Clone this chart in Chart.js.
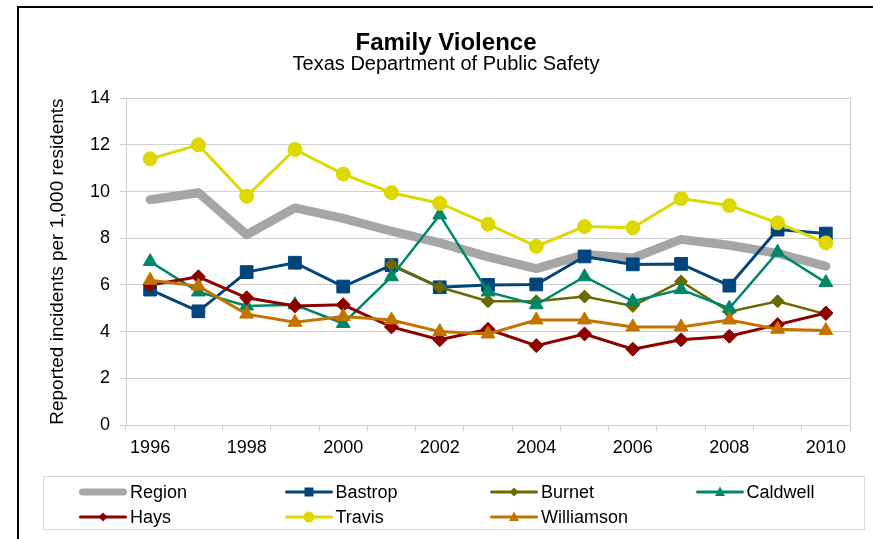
<!DOCTYPE html>
<html>
<head>
<meta charset="utf-8">
<script src="https://cdn.jsdelivr.net/npm/chart.js@4/dist/chart.umd.min.js"></script>
<style>
  body { margin: 0; background: #fff; font-family: "Liberation Sans", Arial, sans-serif; }
  #frame { position: absolute; left: 17px; top: 6px; width: 900px; height: 600px;
           border-left: 2px solid #000; border-top: 2px solid #000; }
  #c { position: absolute; left: 0; top: 0; }
  #legend { position: absolute; left: 43px; top: 476px; width: 822px; height: 54px;
            border: 1px solid #d9d9d9; box-sizing: border-box; }
  .item { position: absolute; height: 22px; display: flex; align-items: center;
          font-size: 18px; color: #000; white-space: nowrap; }
  .item svg { margin-right: 2px; }
</style>
</head>
<body>
<div id="frame"></div>
<canvas id="c" width="873" height="539"></canvas>
<div id="legend"></div>
<script>
"use strict";

// years on the x axis
const years = ["1996", "1997", "1998", "1999", "2000", "2001", "2002", "2003",
               "2004", "2005", "2006", "2007", "2008", "2009", "2010"];

// reported incidents per 1,000 residents
const region     = [9.65, 9.95, 8.15, 9.3, 8.85, 8.3, 7.8, 7.2, 6.7, 7.3, 7.15, 7.95, 7.7, 7.35, 6.8];
const bastrop    = [5.8, 4.87, 6.55, 6.95, 5.93, 6.85, 5.9, 6.0, 6.02, 7.22, 6.88, 6.9, 5.97, 8.37, 8.2];
const burnet     = [null, null, null, null, null, 6.87, 5.9, 5.3, 5.3, 5.5, 5.1, 6.15, 4.85, 5.3, 4.75];
const caldwell   = [7.0, 5.7, 5.1, 5.15, 4.35, 6.35, 9.0, 5.7, 5.15, 6.35, 5.3, 5.8, 5.0, 7.4, 6.1];
const hays       = [6.0, 6.35, 5.45, 5.1, 5.15, 4.2, 3.65, 4.1, 3.4, 3.9, 3.25, 3.65, 3.8, 4.3, 4.8];
const travis     = [11.4, 12.0, 9.8, 11.8, 10.75, 9.95, 9.5, 8.6, 7.65, 8.5, 8.45, 9.7, 9.4, 8.66, 7.8];
const williamson = [6.2, 5.95, 4.75, 4.4, 4.65, 4.5, 4.0, 3.9, 4.5, 4.5, 4.2, 4.2, 4.5, 4.1, 4.05];

// y axis ticks
const yTicks = [0, 2, 4, 6, 8, 10, 12, 14];

const gridColor = "#cfcfcf";

Chart.defaults.font.family = '"Liberation Sans", Arial, sans-serif';
Chart.defaults.color = "#000";

function series(label, data, color, width, style, radius, order) {
    return {
        label: label,
        data: data,
        borderColor: color,
        backgroundColor: color,
        borderWidth: width,
        pointStyle: style,
        pointRadius: radius,
        pointHoverRadius: radius,
        pointBorderWidth: 1,
        pointBorderColor: color,
        pointBackgroundColor: color,
        tension: 0,
        order: order
    };
}

const datasets = [
    series("Region", region, "#a6a6a6", 9, false, 0, 7),
    series("Bastrop", bastrop, "#00457c", 3, "rect", 9, 6),
    series("Burnet", burnet, "#6b6a00", 2.5, "rectRot", 6.5, 5),
    series("Caldwell", caldwell, "#00876a", 2.5, "triangle", 8, 4),
    series("Hays", hays, "#8c0000", 3, "rectRot", 7, 3),
    series("Travis", travis, "#dcd800", 3, "circle", 7, 2),
    series("Williamson", williamson, "#c27300", 3, "triangle", 8, 1)
];
datasets[0].borderJoinStyle = "round";
datasets[0].borderCapStyle = "round";

// grey line closing the plot area on the right
const plotFrame = {
    id: "plotFrame",
    beforeDatasetsDraw(chart) {
        const a = chart.chartArea;
        const ctx = chart.ctx;
        ctx.save();
        ctx.strokeStyle = gridColor;
        ctx.lineWidth = 1;
        ctx.beginPath();
        ctx.moveTo(Math.round(a.right) + 0.5, a.top);
        ctx.lineTo(Math.round(a.right) + 0.5, a.bottom);
        ctx.stroke();
        ctx.restore();
    }
};

const config = {
    type: "line",
    data: { labels: years, datasets: datasets },
    options: {
        responsive: false,
        animation: false,
        layout: { padding: { left: 42, right: 23, top: 10, bottom: 0 } },
        plugins: {
            legend: { display: false },
            tooltip: { enabled: false },
            title: {
                display: true,
                text: "Family Violence",
                font: { size: 24, weight: "bold", lineHeight: 0.84 },
                padding: { top: 23, bottom: 0 }
            },
            subtitle: {
                display: true,
                text: "Texas Department of Public Safety",
                font: { size: 20, lineHeight: 1 },
                padding: { top: 1, bottom: 24 }
            }
        },
        scales: {
            x: {
                offset: true,
                grid: { offset: true, drawOnChartArea: false, drawTicks: true, tickLength: 6, color: gridColor },
                border: { color: gridColor },
                ticks: {
                    autoSkip: false, maxRotation: 0, padding: 6,
                    font: { size: 18 },
                    callback: (v, i) => (i % 2 === 0 ? years[i] : "")
                },
                afterFit: (s) => { s.height = 114; }
            },
            y: {
                min: yTicks[0],
                max: yTicks[yTicks.length - 1],
                grid: { color: gridColor, tickLength: 6 },
                border: { color: gridColor },
                ticks: { stepSize: 2, padding: 10, font: { size: 18 } },
                title: {
                    display: true,
                    text: "Reported incidents per 1,000 residents",
                    font: { size: 19 },
                    padding: { top: 4, bottom: 4 }
                },
                afterFit: (s) => { s.width = 84; }
            }
        }
    },
    plugins: [plotFrame]
};

const myChart = new Chart(document.getElementById("c").getContext("2d"), config);

// legend built from the same datasets
function markerSvg(ds) {
    const c = ds.borderColor;
    let m = "";
    if (ds.pointStyle === "rect") m = `<rect x="20.5" y="6.5" width="9" height="9" fill="${c}"/>`;
    else if (ds.pointStyle === "rectRot") m = `<polygon points="25,6.5 29.5,11 25,15.5 20.5,11" fill="${c}"/>`;
    else if (ds.pointStyle === "triangle") m = `<polygon points="25,5.5 30,15 20,15" fill="${c}"/>`;
    else if (ds.pointStyle === "circle") m = `<circle cx="25" cy="11" r="5.5" fill="${c}"/>`;
    const w = ds.pointStyle ? 3 : 7;
    return `<svg width="50" height="22"><line x1="${w / 2 + 1}" y1="11" x2="${49 - w / 2}" y2="11" stroke="${c}" stroke-width="${w}" stroke-linecap="round"/>${m}</svg>`;
}

const legend = document.getElementById("legend");
datasets.forEach((ds, i) => {
    const col = i % 4, row = Math.floor(i / 4);
    const el = document.createElement("div");
    el.className = "item";
    el.style.left = (34 + col * 205.5) + "px";
    el.style.top = (4 + row * 25) + "px";
    el.innerHTML = markerSvg(ds) + "<span>" + ds.label + "</span>";
    legend.appendChild(el);
});
</script>
</body>
</html>
